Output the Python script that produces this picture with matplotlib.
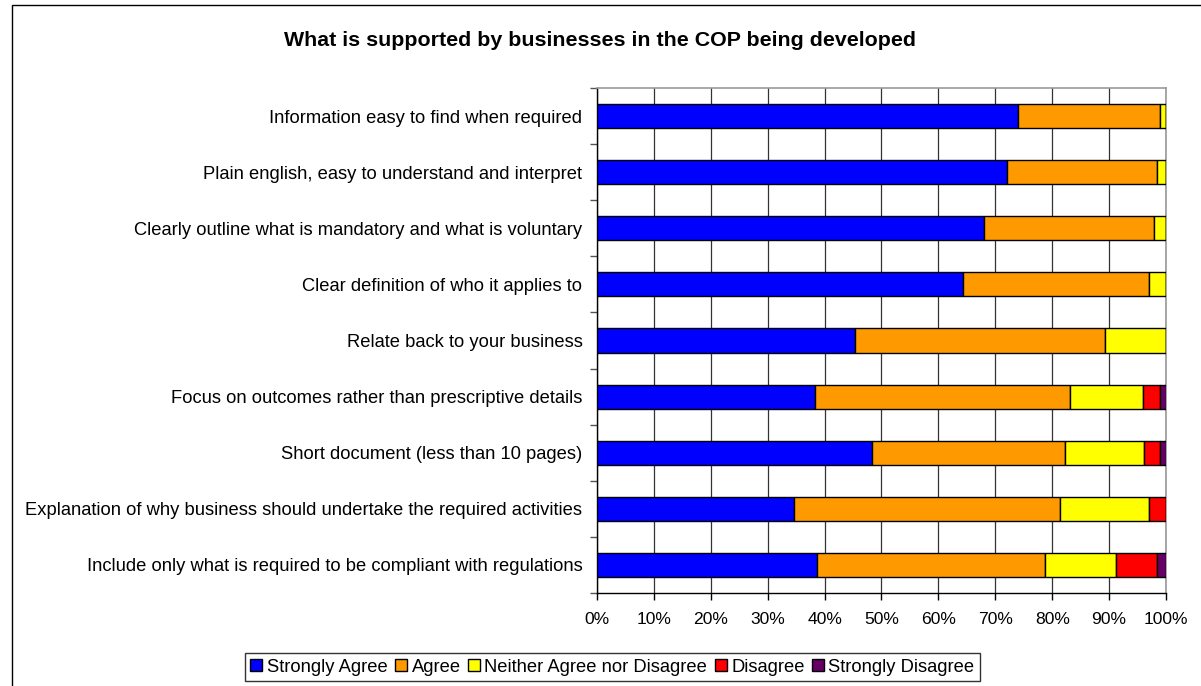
import matplotlib
matplotlib.use("Agg")
import matplotlib.pyplot as plt
import numpy as np
from matplotlib.patches import Rectangle

plt.rcParams['font.family'] = ['Liberation Sans', 'DejaVu Sans']

# statements, top to bottom
questions = [
    "Information easy to find when required",
    "Plain english, easy to understand and interpret",
    "Clearly outline what is mandatory and what is voluntary",
    "Clear definition of who it applies to",
    "Relate back to your business",
    "Focus on outcomes rather than prescriptive details",
    "Short document (less than 10 pages)",
    "Explanation of why business should undertake the required activities",
    "Include only what is required to be compliant with regulations",
]

# share of responses (%) per answer
strongly_agree = [74.0, 72.0, 68.0, 64.3, 45.3, 38.3, 48.3, 34.6, 38.6]
agree = [24.9, 26.4, 29.9, 32.7, 44.0, 44.8, 33.9, 46.8, 40.1]
neither = [1.1, 1.6, 2.1, 3.0, 10.7, 12.9, 14.0, 15.6, 12.6]
disagree = [0.0, 0.0, 0.0, 0.0, 0.0, 2.9, 2.7, 3.0, 7.1]
strongly_disagree = [0.0, 0.0, 0.0, 0.0, 0.0, 1.1, 1.1, 0.0, 1.6]

answers = ["Strongly Agree", "Agree", "Neither Agree nor Disagree",
           "Disagree", "Strongly Disagree"]
colours = ["#0000FF", "#FF9900", "#FFFF00", "#FF0000", "#660066"]

fig = plt.figure(figsize=(12.01, 6.86), dpi=100)
ax = fig.add_axes([597 / 1201, 93 / 686, 569 / 1201, 505 / 686])

y = np.arange(len(questions))
left = np.zeros(len(questions))
for vals, name, col in zip([strongly_agree, agree, neither, disagree, strongly_disagree],
                           answers, colours):
    vals = np.array(vals)
    ax.barh(y, vals, left=left, height=0.43, color=col, edgecolor='black',
            linewidth=1.0, label=name, zorder=3)
    left += vals

ax.set_xlim(0, 100)
ax.set_ylim(len(questions) - 0.5, -0.5)

ax.set_xticks(np.arange(0, 101, 10))
ax.set_xticklabels([f"{v}%" for v in range(0, 101, 10)], fontsize=12.6)
ax.tick_params(axis='x', direction='out', length=5, width=1, pad=9, color='black')
ax.grid(axis='x', color='#333333', linewidth=0.9, zorder=0)

ax.set_yticks(y)
ax.set_yticklabels(questions, fontsize=13.2)
ax.tick_params(axis='y', which='major', length=0, pad=10.5)
ax.set_yticks(np.arange(-0.5, len(questions), 1), minor=True)
ax.tick_params(axis='y', which='minor', direction='out', length=5, width=1, color='#555555')

for side in ['left', 'bottom']:
    ax.spines[side].set_color('black')
    ax.spines[side].set_linewidth(1)
for side in ['top', 'right']:
    ax.spines[side].set_color('#999999')
    ax.spines[side].set_linewidth(1.2)

fig.text(0.5, 1 - 40 / 686, "What is supported by businesses in the COP being developed",
         ha='center', va='center', fontsize=15.4, fontweight='bold')

leg = fig.legend(loc='center', bbox_to_anchor=(612.5 / 1201, (686 - 667) / 686),
                 ncol=5, fontsize=13.2, frameon=True, fancybox=False,
                 handlelength=0.65, handleheight=0.65, handletextpad=0.25,
                 columnspacing=0.4, borderpad=0.3, borderaxespad=0)
leg.get_frame().set_edgecolor('black')
leg.get_frame().set_linewidth(1)

# outer chart border
fig.patches.append(Rectangle((12 / 1201, -0.2), 1.2, 0.2 + 681 / 686,
                             transform=fig.transFigure, fill=False,
                             edgecolor='black', linewidth=1))

fig.savefig("out.png", dpi=100)
